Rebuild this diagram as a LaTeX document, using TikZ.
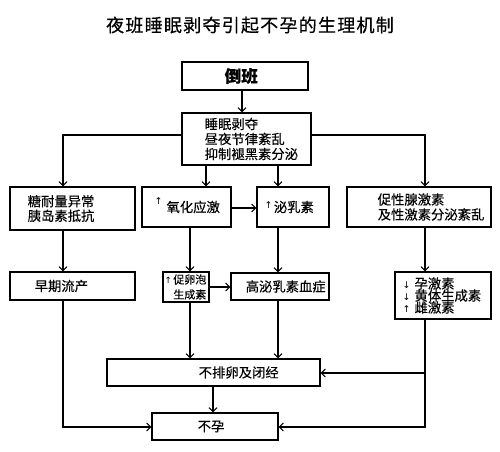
\documentclass[tikz,border=0pt]{standalone}
\usepackage{fontspec}
\setmainfont{Noto Sans CJK SC}[FakeBold=0.3]
\newfontfamily\tfont{Noto Sans CJK SC}[FakeBold=0.5, LetterSpace=7]
\newfontfamily\arw{DejaVu Sans}
\usetikzlibrary{arrows.meta}
\newdimen\pxu \pxu=0.75pt
\newcommand\myup[1][7]{{\arw\fontsize{#1}{#1}\selectfont ↑}}
\newcommand\mydn[1][7]{{\arw\fontsize{#1}{#1}\selectfont ↓}}
\newcommand\tightlines{\fontsize{10}{9}\selectfont\lineskiplimit=-10pt\relax}
\tikzset{
  box/.style 2 args={draw, line width=0.8pt, inner sep=0pt, minimum width=#1\pxu, minimum height=#2\pxu},
  txt/.style={inner sep=0pt, align=left, font=\fontsize{10}{11.25}\selectfont},
  arr/.style={line width=0.8pt, -{Straight Barb[length=3pt,width=6pt]}},
}
\begin{document}
\begin{tikzpicture}[x=0.75pt, y=-0.75pt]
\fill[white] (0,0) rectangle (500,451);
\useasboundingbox (0,0) rectangle (500,451);
\node[inner sep=0pt] (T) at (250,25) {\tfont\fontsize{13.5}{15}\selectfont 夜班睡眠剥夺引起不孕的生理机制};
\node[box={126}{28}, label={[txt, anchor=west, xshift=43\pxu, font=\bfseries\fontsize{12.4}{14}\selectfont]west:倒班}] (A) at (245,76) {};
\node[box={129}{52}, label={[txt, anchor=west, xshift=23\pxu]west:{睡眠剥夺\\昼夜节律紊乱\\抑制褪黑素分泌}}] (B) at (246.5,139) {};
\node[box={125}{43}, label={[txt, anchor=west, xshift=18\pxu, font=\fontsize{10}{10.9}\selectfont]west:{糖耐量异常\\胰岛素抵抗}}] (C) at (72.5,208.5) {};
\node[box={89}{40}, label={[txt, anchor=west, xshift=13\pxu]west:{\smash{\raisebox{6pt}{\myup}}\hspace{3pt}氧化应激}}] (D) at (186.5,207) {};
\node[box={72}{40}, label={[txt, anchor=west, xshift=8\pxu]west:{\smash{\raisebox{3pt}{\myup}}\hspace{1pt}泌乳素}}] (E) at (293,207) {};
\node[box={144}{40}, label={[txt, anchor=west, xshift=31\pxu]west:{促性腺激素\\及性激素分泌紊乱}}] (F) at (419,207) {};
\node[box={125}{28}, label={[txt, anchor=west, xshift=25\pxu]west:早期流产}] (H) at (72.5,286) {};
\node[box={46}{30}, label={[txt, anchor=west, xshift=2\pxu, font=\fontsize{8.25}{11.25}\selectfont]west:{\myup[6.5]\hspace{1pt}促卵泡\\\hphantom{\myup[6.5]\hspace{1pt}}生成素}}] (I) at (186,287) {};
\node[box={98}{27}, label={[txt, anchor=west, xshift=15\pxu]west:高泌乳素血症}] (J) at (280,286.5) {};
\node[box={96}{47}, label={[txt, anchor=west, xshift=8\pxu, font=\tightlines]west:{\mydn\hspace{3pt}孕激素\\\mydn\hspace{3pt}黄体生成素\\\myup\hspace{3pt}雌激素}}] (K) at (443,295.5) {};
\node[box={213}{27}, label={[txt, anchor=west, xshift=92\pxu]west:不排卵及闭经}] (L) at (213.5,372.5) {};
\node[box={126}{27}, label={[txt, anchor=west, xshift=46\pxu]west:不孕}] (M) at (215,426.5) {};
\draw[arr] (A.south -| 242,0) -- (B.north -| 242,0);
\draw[arr] (B.west |- 0,135) -| (C.north -| 63,0);
\draw[arr] (B.east |- 0,135) -| (F.north -| 425,0);
\draw[arr] (B.south -| 206,0) -- (D.north -| 206,0);
\draw[arr] (B.south -| 278,0) -- (E.north -| 278,0);
\draw[arr] (D.east |- 0,208) -- (E.west |- 0,208);
\draw[arr] (C.south -| 63,0) -- (H.north -| 63,0);
\draw[arr] (D.south -| 190,0) -- (I.north -| 190,0);
\draw[arr] (E.south -| 278,0) -- (J.north -| 278,0);
\draw[arr] (F.south -| 425,0) -- (K.north -| 425,0);
\draw[arr] (I.east |- 0,287) -- (J.west |- 0,287);
\draw[arr] (I.south -| 190,0) -- (L.north -| 190,0);
\draw[arr] (J.south -| 278,0) -- (L.north -| 278,0);
\draw[arr] (K.south -| 425,0) |- (M.east |- 0,427);
\draw[arr] (K.south -| 425,0) |- (L.east |- 0,373);
\draw[arr] (H.south -| 63,0) |- (M.west |- 0,427);
\draw[arr] (L.south -| 213,0) -- (M.north -| 213,0);
\end{tikzpicture}
\end{document}
